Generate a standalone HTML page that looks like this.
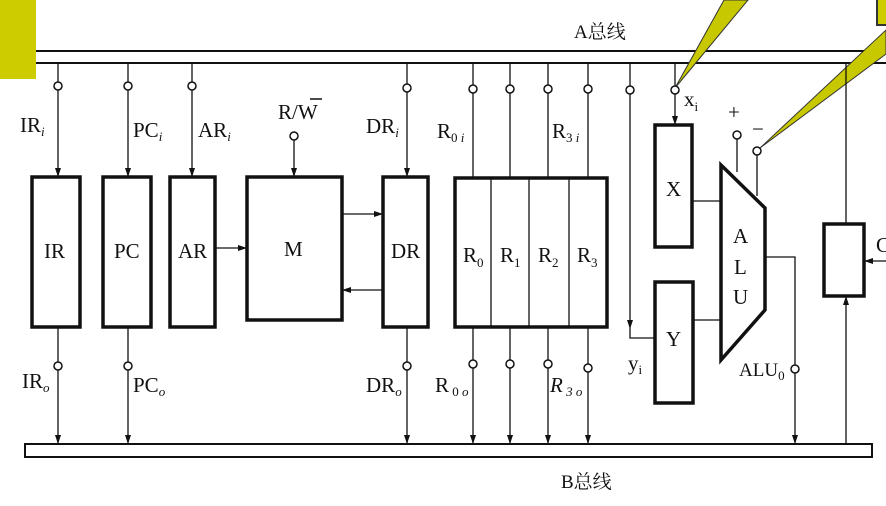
<!DOCTYPE html>
<html><head><meta charset="utf-8"><style>
html,body{margin:0;padding:0;background:#fff;width:886px;height:506px;overflow:hidden}
svg{display:block}
text{font-family:"Liberation Serif","Noto Serif CJK SC",serif;fill:#111}
</style></head><body>
<svg width="886" height="506" viewBox="0 0 886 506">
<g stroke="#111" fill="none" stroke-width="1.3">
<rect x="30" y="51" width="870" height="12" stroke-width="2" fill="#fff"/>
<rect x="25" y="444" width="847" height="13" stroke-width="2" fill="#fff"/>
</g>
<rect x="0" y="0" width="36" height="79" fill="#cccc00"/>
<polygon points="675,88 724,0 748,0" fill="#c8c800" stroke="#333" stroke-width="1"/>
<polygon points="760,148 886,30 886,54" fill="#c8c800" stroke="#333" stroke-width="1"/>
<rect x="877" y="-2" width="12" height="27" fill="#cccc00" stroke="#333" stroke-width="2"/>
<g stroke="#111" fill="none" stroke-width="1.3">
<path d="M58 63V177M128 63V177M192 63V177M407 63V177M473 63V178M510 63V178M548 63V178M588 63V178M675 63V125M846 63V224"/>
<path d="M630 63V338H655"/>
<path d="M294 140V177"/>
<path d="M737 139V172M757 155V196"/>
<path d="M58 327V444M128 327V444M407 327V444M473 327V444M510 327V444M548 327V444M588 327V444M846 296V444"/>
<path d="M765 257H795V444"/>
<path d="M692 201H721M693 320H721M215 248H247M342 214H383M383 290H342M886 261H864"/>
</g>
<g fill="#fff" stroke="#111" stroke-width="1.5">
<circle cx="58" cy="86" r="4"/><circle cx="128" cy="86" r="4"/><circle cx="192" cy="86" r="4"/><circle cx="407" cy="88" r="4"/>
<circle cx="473" cy="89" r="4"/><circle cx="510" cy="89" r="4"/><circle cx="548" cy="89" r="4"/><circle cx="588" cy="89" r="4"/>
<circle cx="630" cy="90" r="4"/><circle cx="675" cy="90" r="4"/><circle cx="294" cy="136" r="4"/>
<circle cx="737" cy="135" r="4"/><circle cx="757" cy="151" r="4"/>
<circle cx="58" cy="366" r="4"/><circle cx="128" cy="366" r="4"/><circle cx="407" cy="366" r="4"/>
<circle cx="473" cy="364" r="4"/><circle cx="510" cy="364" r="4"/><circle cx="548" cy="364" r="4"/><circle cx="588" cy="368" r="4"/>
<circle cx="795" cy="369" r="4"/>
</g>
<g fill="#111">
<path d="M55 168L58 177L61 168ZM125 168L128 177L131 168ZM189 168L192 177L195 168ZM404 168L407 177L410 168ZM291 168L294 177L297 168ZM672 116L675 125L678 116ZM627 320L630 329L633 320Z"/>
<path d="M55 435L58 444L61 435ZM125 435L128 444L131 435ZM404 435L407 444L410 435ZM470 435L473 444L476 435ZM507 435L510 444L513 435ZM545 435L548 444L551 435ZM585 435L588 444L591 435ZM792 435L795 444L798 435Z"/>
<path d="M238 245L247 248L238 251ZM374 211L383 214L374 217ZM351 287L342 290L351 293ZM843 305L846 296L849 305ZM873 258L864 261L873 264Z"/>
</g>
<g stroke="#111" fill="#fff" stroke-width="3.5">
<rect x="32" y="177" width="48" height="150"/>
<rect x="103" y="177" width="48" height="150"/>
<rect x="170" y="177" width="45" height="150"/>
<rect x="247" y="177" width="95" height="143"/>
<rect x="383" y="177" width="45" height="150"/>
<rect x="455" y="178" width="152" height="149"/>
<rect x="655" y="125" width="37" height="122"/>
<rect x="655" y="282" width="38" height="121"/>
<polygon points="721,165 765,208 765,310 721,360"/>
<rect x="824" y="224" width="40" height="72"/>
</g>
<path d="M491 178V327M529 178V327M569 178V327" stroke="#111" stroke-width="1.3"/>
<g font-size="21">
<text x="44" y="258">IR</text><text x="114" y="258">PC</text><text x="178" y="258">AR</text>
<text x="284" y="256">M</text><text x="391" y="258">DR</text>
<text x="666" y="196">X</text><text x="666" y="346">Y</text>
<text x="733" y="243">A</text><text x="734" y="274">L</text><text x="733" y="304">U</text>
<text x="463" y="262">R<tspan font-size="13" dy="5">0</tspan></text>
<text x="500" y="262">R<tspan font-size="13" dy="5">1</tspan></text>
<text x="538" y="262">R<tspan font-size="13" dy="5">2</tspan></text>
<text x="577" y="262">R<tspan font-size="13" dy="5">3</tspan></text>
<text x="20" y="132">IR<tspan font-size="13" font-style="italic" dy="4">i</tspan></text>
<text x="133" y="137">PC<tspan font-size="13" font-style="italic" dy="4">i</tspan></text>
<text x="198" y="137">AR<tspan font-size="13" font-style="italic" dy="4">i</tspan></text>
<text x="278" y="119">R/W</text><path d="M310 99H322" stroke="#111" stroke-width="1.5"/>
<text x="366" y="133">DR<tspan font-size="13" font-style="italic" dy="4">i</tspan></text>
<text x="437" y="138">R<tspan font-size="13" dy="4">0 </tspan><tspan font-size="13" font-style="italic">i</tspan></text>
<text x="552" y="138">R<tspan font-size="13" dy="4">3 </tspan><tspan font-size="13" font-style="italic">i</tspan></text>
<text x="684" y="106">x<tspan font-size="13" dy="5">i</tspan></text>
<text x="728" y="119">+</text><text x="752" y="136">−</text>
<text x="22" y="388">IR<tspan font-size="13" font-style="italic" dy="4">o</tspan></text>
<text x="133" y="392">PC<tspan font-size="13" font-style="italic" dy="4">o</tspan></text>
<text x="366" y="392">DR<tspan font-size="13" font-style="italic" dy="4">o</tspan></text>
<text x="435" y="392">R<tspan font-size="13" dy="4"> 0 </tspan><tspan font-size="13" font-style="italic">o</tspan></text>
<text x="550" y="392" font-style="italic">R<tspan font-size="13" dy="4"> 3 </tspan><tspan font-size="13">o</tspan></text>
<text x="628" y="370">y<tspan font-size="13" dy="4">i</tspan></text>
<text x="739" y="376" font-size="19">ALU<tspan font-size="13" dy="4">0</tspan></text>
<text x="876" y="252">C</text>
<text x="574" y="38" font-size="19">A总线</text>
<text x="561" y="488" font-size="19">B总线</text>
</g>
</svg>
</body></html>
